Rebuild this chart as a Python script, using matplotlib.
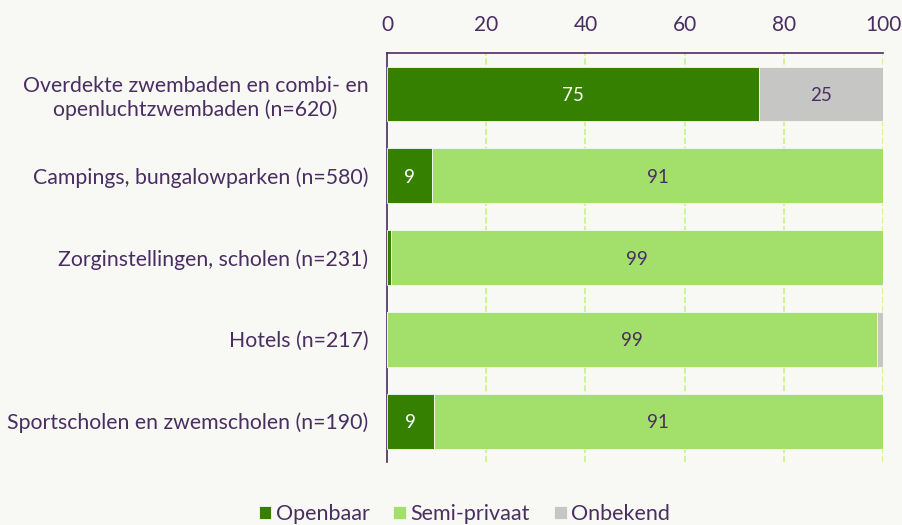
import numpy as np
import matplotlib.pyplot as plt

# Data
categories = [
    'Overdekte zwembaden en combi- en\nopenluchtzwembaden (n=620)',
    'Campings, bungalowparken (n=580)',
    'Zorginstellingen, scholen (n=231)',
    'Hotels (n=217)',
    'Sportscholen en zwemscholen (n=190)',
]
openbaar = [75, 9.1, 0.8, 0, 9.4]
semi_privaat = [0, 90.9, 99.2, 98.8, 90.6]
onbekend = [25, 0, 0, 1.2, 0]
series_names = ['Openbaar', 'Semi-privaat', 'Onbekend']

colors = ['#368000', '#a2df6b', '#c6c6c4']
label_colors = ['white', '#4a2e62', '#4a2e62']
text_color = '#4a2e62'
bg = '#f8f8f4'

plt.rcParams['font.family'] = ['Lato', 'DejaVu Sans']

fig = plt.figure(figsize=(9.03, 5.25), dpi=100, facecolor=bg)
ax = fig.add_axes([0.4286, 0.12, 0.5493, 0.779], facecolor=bg)

y = np.arange(len(categories))
left = np.zeros(len(categories))
for vals, name, col, lcol in zip([openbaar, semi_privaat, onbekend], series_names, colors, label_colors):
    vals = np.array(vals)
    bars = ax.barh(y, vals, left=left, height=0.67, color=col, label=name,
                   edgecolor=bg, linewidth=0.6, zorder=3)
    for b, v in zip(bars, vals):
        if v >= 5:
            ax.text(b.get_x() + b.get_width() / 2, b.get_y() + b.get_height() / 2,
                    f'{v:.0f}', ha='center', va='center_baseline', color=lcol,
                    fontsize=13.5, zorder=4)
    left += vals

ax.set_xlim(0, 100)
ax.set_ylim(4.5, -0.5)
ax.set_xticks([0, 20, 40, 60, 80, 100])
ax.xaxis.tick_top()
ax.tick_params(axis='x', length=0, pad=13, labelsize=15, labelcolor=text_color)
ax.set_yticks(y)
ax.set_yticklabels(categories, multialignment='center')
ax.tick_params(axis='y', length=0, pad=13.5, labelsize=15.3, labelcolor=text_color)

ax.grid(axis='x', color='#c5f57f', linestyle='--', linewidth=1.2, zorder=0)
for s in ['right', 'bottom']:
    ax.spines[s].set_visible(False)
ax.spines['left'].set_color(text_color)
ax.spines['top'].set_color(text_color)
ax.spines['left'].set_linewidth(1.2)
ax.spines['top'].set_linewidth(1.2)

leg = fig.legend(loc='lower center', bbox_to_anchor=(0.514, -0.035), ncol=3, frameon=False,
                 fontsize=15.5, handlelength=0.6, handleheight=0.6, handletextpad=0.2,
                 columnspacing=1.1, labelcolor=text_color)

fig.savefig('out.png', dpi=100, facecolor=bg)
